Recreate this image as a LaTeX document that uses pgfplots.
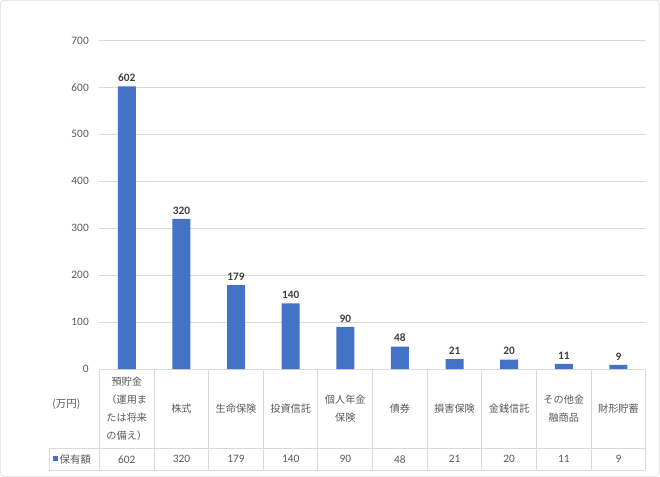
\documentclass[border=0pt]{standalone}
\usepackage{fontspec}
\setmainfont{Carlito}
\newfontfamily\jp{Noto Sans CJK JP}
\usepackage{pgfplots}
\pgfplotsset{compat=1.18}
\definecolor{barblue}{HTML}{4472C4}
\definecolor{gridgray}{HTML}{D9D9D9}
\definecolor{txtgray}{HTML}{595959}
\definecolor{lblgray}{HTML}{404040}

\begin{document}
\begin{tikzpicture}[x=0.75pt,y=0.75pt]
% frame of the chart area
\draw[gridgray, rounded corners=3pt] (1,1) rectangle (659,476);
\begin{axis}[
  at={(75pt,81pt)}, anchor=south west,
  scale only axis, width=408.75pt, height=246pt,
  ybar, bar width=13.5pt,
  xmin=-0.5, xmax=9.5, ymin=0, ymax=700,
  ytick={0,100,...,700},
  xtick={0,...,9},
  xticklabels={{預貯金\\（運用ま\\たは将来\\の備え）}, 株式, 生命保険, 投資信託,
    {個人年金\\保険}, 債券, 損害保険, 金銭信託, {その他金\\融商品}, 財形貯蓄},
  axis line style={draw=none},
  tick style={draw=none},
  major tick length=0pt,
  ymajorgrids, grid style={gridgray, line width=0.75pt},
  /pgf/number format/assume math mode=true,
  yticklabel style={font=\fontsize{8.5}{10}\selectfont, text=txtgray, xshift=-4.5pt},
  xticklabel style={font=\jp\fontsize{7.6}{13.5}\selectfont, text=txtgray,
    anchor=center, align=center, yshift=-29.6pt},
  clip=false,
]
\addplot[fill=barblue, draw=none,
  nodes near coords,
  nodes near coords style={font=\bfseries\fontsize{8.5}{10}\selectfont, text=lblgray}]
  coordinates {(0,602) (1,320) (2,179) (3,140) (4,90) (5,48) (6,21) (7,20) (8,11) (9,9)};
\end{axis}
% data table below the axis
\foreach \k in {0,...,10}
  \draw[gridgray, line width=0.75pt] ({100+54.5*\k},108) -- ({100+54.5*\k},7);
\draw[gridgray, line width=0.75pt] (50,29) -- (645,29);
\draw[gridgray, line width=0.75pt] (50,7) -- (645,7);
\draw[gridgray, line width=0.75pt] (50,7) -- (50,29);
\node[font=\jp\fontsize{7.8}{10}\selectfont, text=txtgray] at (67,73) {(万円)};
\fill[barblue] (54,16) rectangle (59,21);
\node[font=\jp\fontsize{7.8}{10}\selectfont, text=txtgray, anchor=west, inner sep=0pt] at (60,18) {保有額};
\foreach \v [count=\i from 0] in {602,320,179,140,90,48,21,20,11,9}
  \node[font=\fontsize{8.5}{10}\selectfont, text=txtgray] at ({127.25+54.5*\i},18) {\v};
\end{tikzpicture}
\end{document}
